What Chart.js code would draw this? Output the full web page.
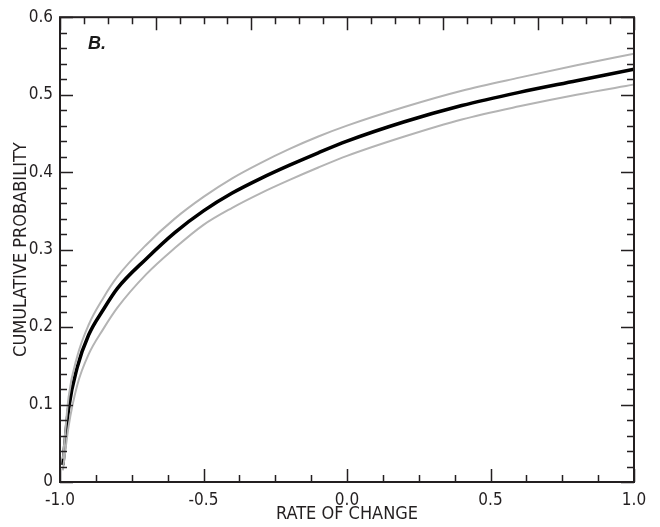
<!DOCTYPE html>
<html>
<head>
<meta charset="utf-8">
<script src="https://cdn.jsdelivr.net/npm/chart.js@4"></script>
<style>
  html, body { margin: 0; padding: 0; background: #fff; }
  #wrap { width: 660px; height: 527px; }
</style>
</head>
<body>
<div id="wrap"><canvas id="probChart"></canvas></div>
<script>
// rate of change (x) and cumulative probability curves (y)
const rates = [-0.99, -0.97, -0.94, -0.90, -0.85, -0.80, -0.70, -0.60, -0.50, -0.40, -0.30, -0.20, -0.10, 0.00, 0.20, 0.40, 0.60, 0.80, 1.00];
const upperProb = [0.030, 0.110, 0.162, 0.203, 0.237, 0.265, 0.306, 0.340, 0.368, 0.392, 0.412, 0.430, 0.446, 0.460, 0.484, 0.505, 0.522, 0.538, 0.553];
const meanProb = [0.022, 0.095, 0.148, 0.190, 0.222, 0.250, 0.288, 0.322, 0.350, 0.373, 0.392, 0.409, 0.425, 0.440, 0.465, 0.486, 0.503, 0.518, 0.533];
const lowerProb = [0.015, 0.072, 0.125, 0.165, 0.197, 0.225, 0.268, 0.302, 0.332, 0.354, 0.373, 0.390, 0.406, 0.421, 0.446, 0.468, 0.485, 0.500, 0.513];

const xTicks = [-1.0, -0.5, 0.0, 0.5, 1.0];
const yTicks = [0, 0.1, 0.2, 0.3, 0.4, 0.5, 0.6];

const axisColor = '#231f20';
const grey = '#b4b4b4';

function pts(ys) {
    return rates.map((x, i) => ({ x: x, y: ys[i] }));
}

// frame + inward tick marks, drawn from the chart's own scales
const frameTicks = {
    id: 'frameTicks',
    afterDatasetsDraw(chart) {
        const ctx = chart.ctx;
        const a = chart.chartArea;
        const xs = chart.scales.x;
        const ys = chart.scales.y;
        ctx.save();
        ctx.strokeStyle = axisColor;
        ctx.lineWidth = 1.5;
        ctx.beginPath();
        // bottom ticks every 0.125, long at 0.5
        for (let i = 0; i <= 16; i++) {
            const px = Math.round(xs.getPixelForValue(-1 + i * 0.125)) + 0.5;
            const len = i % 4 === 0 ? 13 : 7;
            ctx.moveTo(px, a.bottom);
            ctx.lineTo(px, a.bottom - len);
        }
        // top ticks every 1/12, long every third
        for (let i = 0; i <= 24; i++) {
            const px = Math.round(xs.getPixelForValue(-1 + i / 12)) + 0.5;
            const len = i % 4 === 0 ? 13 : 7;
            ctx.moveTo(px, a.top);
            ctx.lineTo(px, a.top + len);
        }
        // left / right ticks every 0.02, long at 0.1
        for (let i = 0; i <= 30; i++) {
            const py = Math.round(ys.getPixelForValue(i * 0.02)) + 0.5;
            const len = i % 5 === 0 ? 13 : 7;
            ctx.moveTo(a.left, py);
            ctx.lineTo(a.left + len, py);
            ctx.moveTo(a.right, py);
            ctx.lineTo(a.right - len, py);
        }
        ctx.stroke();
        ctx.lineWidth = 2;
        ctx.strokeRect(a.left, a.top, a.right - a.left, a.bottom - a.top);
        // panel letter
        ctx.fillStyle = '#1a1a1a';
        ctx.font = 'italic bold 18px "Liberation Sans", Arial, sans-serif';
        ctx.textBaseline = 'alphabetic';
        ctx.fillText('B.', a.left + 28, a.top + 32);
        ctx.restore();
    }
};

const tickFont = { family: '"DejaVu Sans Condensed", sans-serif', size: 17 };
const titleFont = { family: '"DejaVu Sans Condensed", sans-serif', size: 18 };

new Chart(document.getElementById('probChart'), {
    type: 'line',
    data: {
        datasets: [
            { label: 'Upper', data: pts(upperProb), borderColor: grey, borderWidth: 2, pointRadius: 0, cubicInterpolationMode: 'monotone' },
            { label: 'Lower', data: pts(lowerProb), borderColor: grey, borderWidth: 2, pointRadius: 0, cubicInterpolationMode: 'monotone' },
            { label: 'Mean', data: pts(meanProb), borderColor: '#000', borderWidth: 3.5, pointRadius: 0, cubicInterpolationMode: 'monotone' }
        ]
    },
    options: {
        responsive: true,
        maintainAspectRatio: false,
        animation: false,
        layout: { padding: { top: 15, right: 26, left: 0, bottom: 0 } },
        plugins: { legend: { display: false }, tooltip: { enabled: false } },
        scales: {
            x: {
                type: 'linear',
                min: -1, max: 1,
                afterFit: s => { s.height = 45; },
                afterBuildTicks: s => { s.ticks = xTicks.map(v => ({ value: v })); },
                grid: { display: false, drawTicks: false },
                border: { display: false },
                ticks: { font: tickFont, color: axisColor, padding: 8, maxRotation: 0, callback: v => v.toFixed(1) },
                title: { display: true, text: 'RATE OF CHANGE', font: titleFont, color: axisColor, padding: { top: 0, bottom: 2 } }
            },
            y: {
                min: 0, max: 0.6,
                afterFit: s => { s.width = 60; },
                afterBuildTicks: s => { s.ticks = yTicks.map(v => ({ value: v })); },
                grid: { display: false, drawTicks: false },
                border: { display: false },
                ticks: { font: tickFont, color: axisColor, padding: 7, callback: v => v === 0 ? '0' : v.toFixed(1) },
                title: { display: true, text: 'CUMULATIVE PROBABILITY', font: titleFont, color: axisColor, padding: { top: 11, bottom: 0 } }
            }
        }
    },
    plugins: [frameTicks]
});
</script>
</body>
</html>
